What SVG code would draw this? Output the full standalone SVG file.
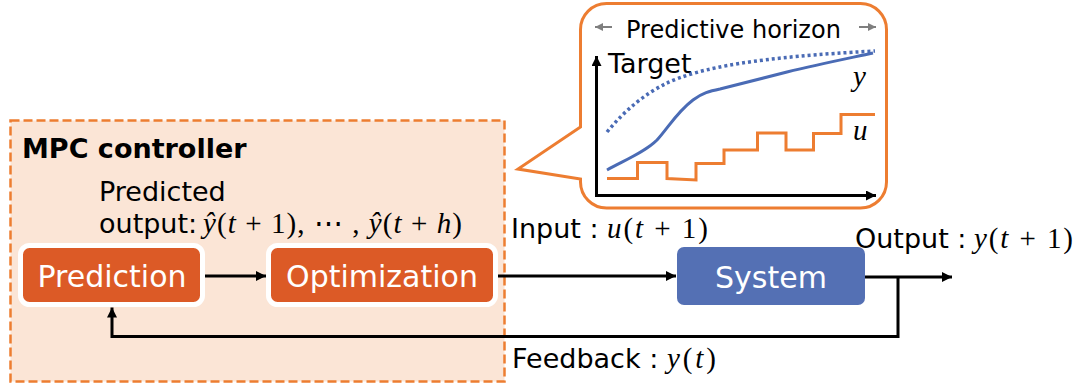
<svg xmlns="http://www.w3.org/2000/svg" width="1083" height="385" viewBox="0 0 1083 385">
<style>
  .t { font-family: "DejaVu Sans", Verdana, sans-serif; fill: #000; }
  .math { font-family: "Liberation Serif", "Times New Roman", serif; font-size: 29px; fill: #000; }
  .i { font-style: italic; }
  .box { font-family: "DejaVu Sans", Verdana, sans-serif; font-size: 30px; fill: #fff; text-anchor: middle; }
  .conn { fill: none; stroke: #000; stroke-width: 3; }
</style>
<defs>
  <marker id="ah" viewBox="0 0 10 10" refX="10" refY="5" markerWidth="10" markerHeight="10" markerUnits="userSpaceOnUse" orient="auto">
    <path d="M0,0 L10,5 L0,10 z" fill="#000"/>
  </marker>
  <marker id="ahg" viewBox="0 0 10 10" refX="10" refY="5" markerWidth="8" markerHeight="8" markerUnits="userSpaceOnUse" orient="auto">
    <path d="M0,0 L10,5 L0,10 z" fill="#7f7f7f"/>
  </marker>
</defs>

<g id="mpc-controller">
  <rect x="10.5" y="120.5" width="494" height="261" fill="#FBE5D6" stroke="#ED7D31" stroke-width="2.5" stroke-dasharray="9,4"/>
  <text class="t" x="22" y="158" font-size="27" font-weight="bold">MPC controller</text>
  <text class="t" x="99" y="201" font-size="27">Predicted</text>
  <text class="t" x="99" y="233" font-size="27">output:</text>
  <text class="math" x="203" y="233" textLength="259" lengthAdjust="spacing"><tspan class="i">ŷ</tspan>(<tspan class="i">t</tspan> + 1), ⋯ , <tspan class="i">ŷ</tspan>(<tspan class="i">t</tspan> + <tspan class="i">h</tspan>)</text>
</g>

<g id="prediction">
  <rect x="20.5" y="245.5" width="182" height="59" rx="9" fill="#DC5A26" stroke="#fff" stroke-width="5"/>
  <text class="box" x="112" y="287">Prediction</text>
</g>

<g id="optimization">
  <rect x="268.5" y="245.5" width="227" height="59" rx="9" fill="#DC5A26" stroke="#fff" stroke-width="5"/>
  <text class="box" x="382" y="287">Optimization</text>
</g>

<g id="system">
  <rect x="677" y="247" width="188" height="58" rx="7" fill="#5470B4"/>
  <text class="box" x="771" y="288">System</text>
</g>

<g id="predictive-horizon-callout">
  <path d="M606.5,3.5 H860.5 A26,26 0 0 1 886.5,29.5 V182 A26,26 0 0 1 860.5,208 H606.5 A26,26 0 0 1 580.5,182 V179 L518,169 L580.5,127 V29.5 A26,26 0 0 1 606.5,3.5 Z" fill="#fff" stroke="#ED7D31" stroke-width="3"/>
  <line x1="612" y1="27" x2="595" y2="27" stroke="#7f7f7f" stroke-width="2" marker-end="url(#ahg)"/>
  <line x1="859" y1="27" x2="876" y2="27" stroke="#7f7f7f" stroke-width="2" marker-end="url(#ahg)"/>
  <text class="t" x="626" y="38" font-size="24">Predictive horizon</text>
  <line x1="596.5" y1="195.5" x2="596.5" y2="56" stroke="#000" stroke-width="3" marker-end="url(#ah)"/>
  <line x1="595" y1="195.5" x2="876" y2="195.5" stroke="#000" stroke-width="3" marker-end="url(#ah)"/>
  <text class="t" x="608" y="73" font-size="27">Target</text>
  <path d="M607,132 C625,110 645,94 665,84 C700,67 760,57 875,51" fill="none" stroke="#4A6BB5" stroke-width="3.5" stroke-dasharray="3,3"/>
  <path d="M607,170 C625,160 645,152 657,140 C668,128 677,112 693,100 C702,93 710,91 720,89 L787,72 C820,64 850,58 873,53" fill="none" stroke="#4A6BB5" stroke-width="3"/>
  <polyline points="607,178.5 637.5,178.5 637.5,162.5 667,162.5 667,178.5 696,180 696,163.5 724,163.5 724,150 757.5,150 757.5,133 786,133 786,150 813.5,150 813.5,133.5 841,133.5 841,114.5 875,114.5" fill="none" stroke="#ED7D31" stroke-width="3"/>
  <text class="math i" x="853" y="86">y</text>
  <text class="math i" x="853" y="140">u</text>
</g>

<g id="connectors">
  <path class="conn" d="M205,276 H266" marker-end="url(#ah)"/>
  <path class="conn" d="M498,276 H676" marker-end="url(#ah)"/>
  <path class="conn" d="M865,277 H952" marker-end="url(#ah)"/>
  <path class="conn" d="M898,277 V336.5 H112 V307.5" marker-end="url(#ah)"/>
</g>

<g id="labels">
  <text class="t" x="511" y="238" font-size="27">Input :</text>
  <text class="math" x="607" y="238" textLength="101" lengthAdjust="spacing"><tspan class="i">u</tspan>(<tspan class="i">t</tspan> + 1)</text>
  <text class="t" x="855" y="248" font-size="27">Output :</text>
  <text class="math" x="974" y="248" textLength="99" lengthAdjust="spacing"><tspan class="i">y</tspan>(<tspan class="i">t</tspan> + 1)</text>
  <text class="t" x="512" y="368" font-size="27">Feedback :</text>
  <text class="math" x="667" y="368" textLength="49" lengthAdjust="spacing"><tspan class="i">y</tspan>(<tspan class="i">t</tspan>)</text>
</g>
</svg>
